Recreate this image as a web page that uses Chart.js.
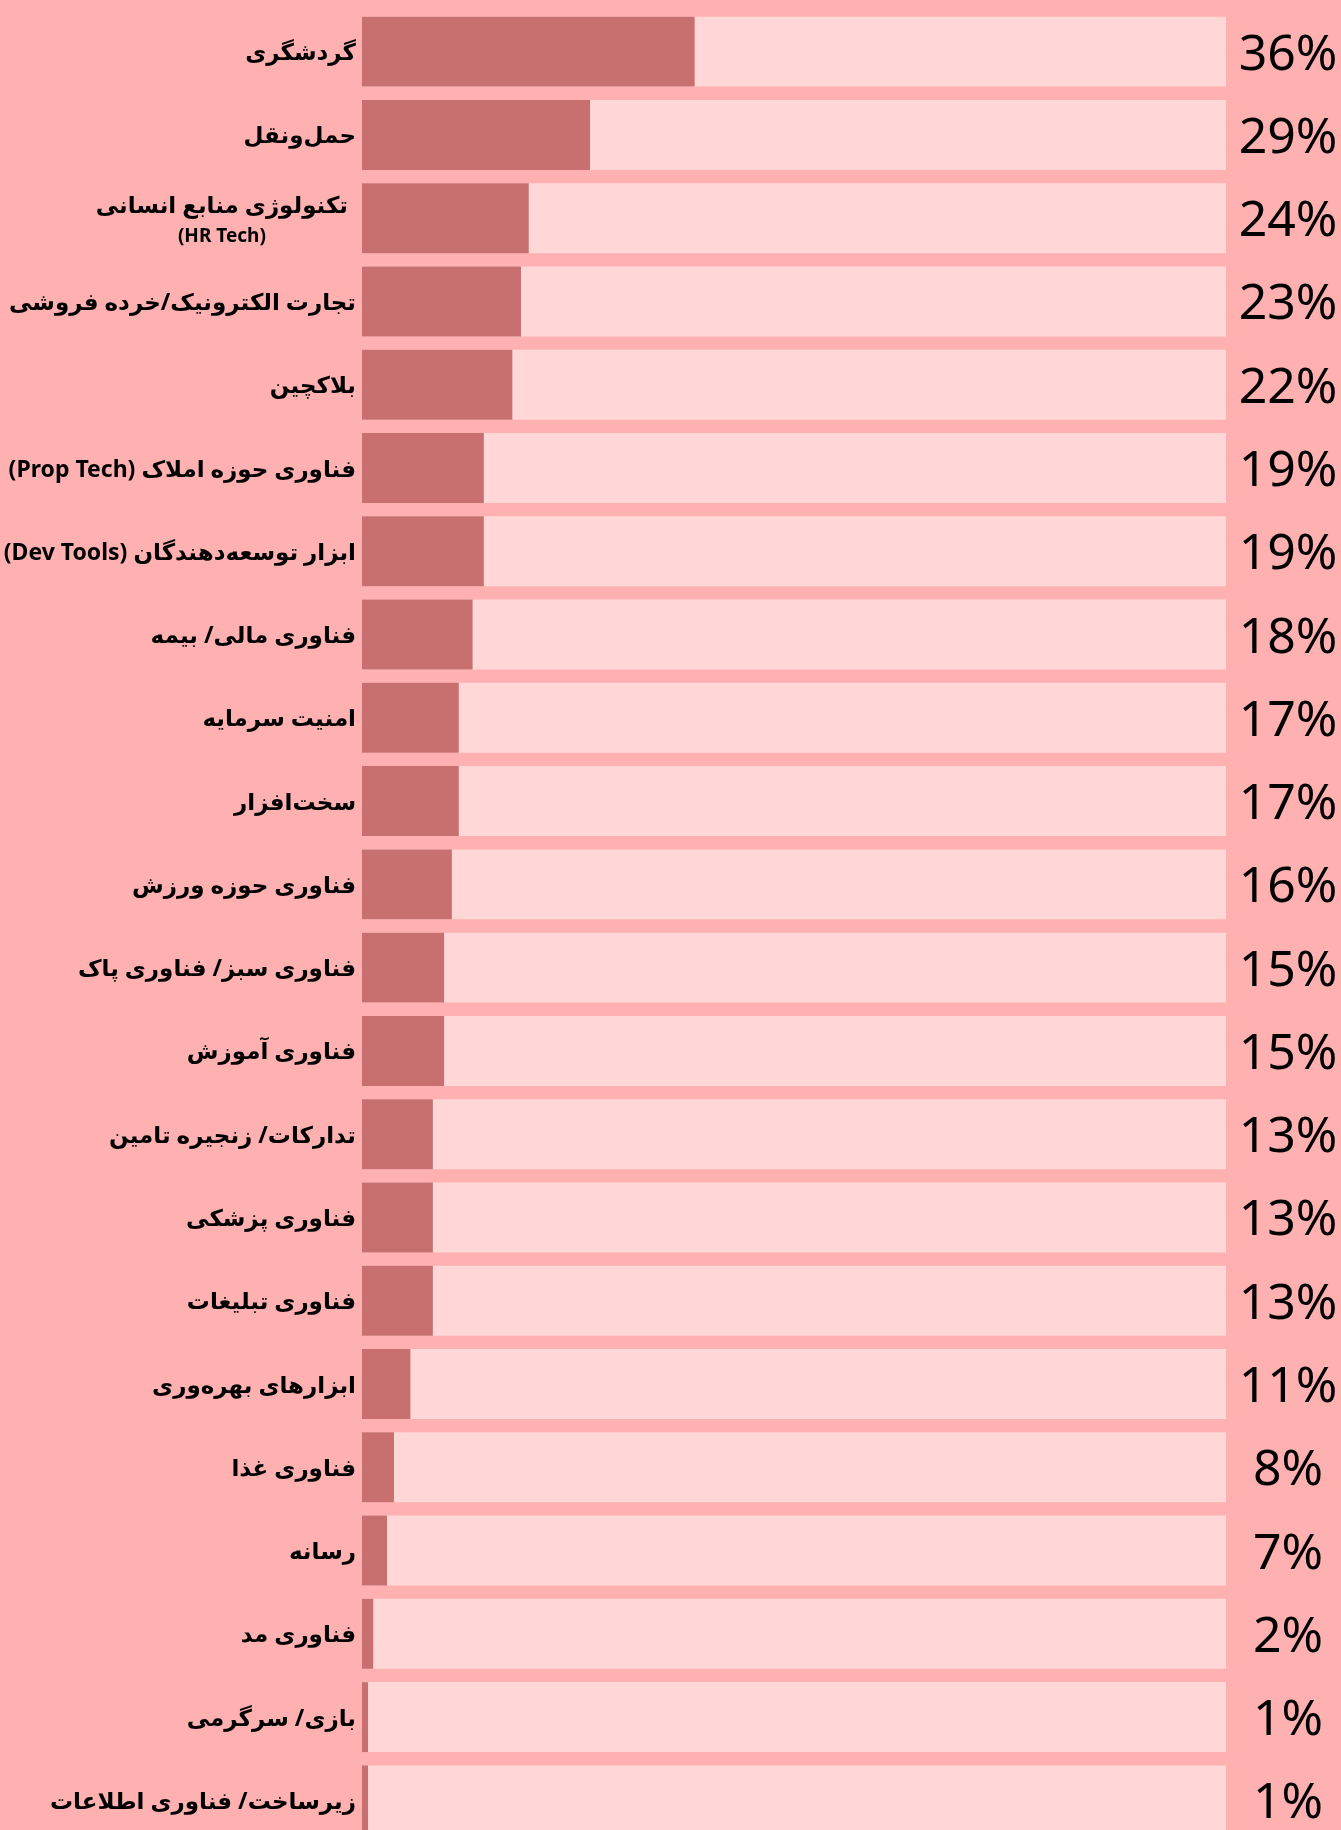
<!DOCTYPE html>
<html lang="fa">
<head>
<meta charset="utf-8">
<script src="https://cdn.jsdelivr.net/npm/chart.js@4.4.1/dist/chart.umd.min.js"></script>
<style>
    html, body { margin: 0; padding: 0; background: #ffb0b0; overflow: hidden; }
    #wrap { width: 1341px; height: 1842px; position: relative; }
</style>
</head>
<body>
<div id="wrap"><canvas id="chart"></canvas></div>
<script>
// دسته‌ها (از بالا به پایین)
const categories = [
    'گردشگری',
    'حمل‌ونقل',
    'تکنولوژی منابع انسانی',
    'تجارت الکترونیک/خرده فروشی',
    'بلاکچین',
    'فناوری حوزه املاک (Prop Tech)',
    'ابزار توسعه‌دهندگان (Dev Tools)',
    'فناوری مالی/ بیمه',
    'امنیت سرمایه',
    'سخت‌افزار',
    'فناوری حوزه ورزش',
    'فناوری سبز/ فناوری پاک',
    'فناوری آموزش',
    'تدارکات/ زنجیره تامین',
    'فناوری پزشکی',
    'فناوری تبلیغات',
    'ابزارهای بهره‌وری',
    'فناوری غذا',
    'رسانه',
    'فناوری مد',
    'بازی/ سرگرمی',
    'زیرساخت/ فناوری اطلاعات'
]

// خط دوم برچسب (فقط برای بعضی ردیف‌ها)
const subLabels = ['', '', '(HR Tech)', '', '', '', '', '', '', '', '', '', '', '', '', '', '', '', '', '', '', '']

// درصدهایی که کنار هر ردیف نوشته شده
const percentLabels = ['36%', '29%', '24%', '23%', '22%', '19%', '19%', '18%', '17%', '17%', '16%',
    '15%', '15%', '13%', '13%', '13%', '11%', '8%', '7%', '2%', '1%', '1%']

// طول میله‌ها نسبت به کل نوار (۱۰۰ = تمام نوار روشن)
const barValues = [38.5, 26.4, 19.3, 18.4, 17.4, 14.1, 14.1, 12.8, 11.2, 11.2, 10.4,
    9.5, 9.5, 8.2, 8.2, 8.2, 5.6, 3.7, 2.9, 1.3, 0.7, 0.7]

const trackMax = 100

const BAR = '#c87070'
const TRACK = '#ffd7d7'


// نوشتن برچسب‌ها و درصدها کنار میله‌ها
const labelsPlugin = {
    id: 'rowLabels',
    afterDatasetsDraw(chart) {
        const ctx = chart.ctx
        const x = chart.scales.x
        const y = chart.scales.y

        ctx.save()
        ctx.fillStyle = '#000'

        categories.forEach((name, i) => {
            const cy = y.getPixelForValue(i)
            const right = x.left - 6

            ctx.direction = 'rtl'
            ctx.textBaseline = 'middle'
            ctx.font = 'bold 23px "Noto Sans", "DejaVu Sans", sans-serif'

            if (subLabels[i]) {
                ctx.textAlign = 'right'
                const w = ctx.measureText(name).width
                ctx.fillText(name, right - 8, cy - 12)

                ctx.font = 'bold 19px "Noto Sans", "DejaVu Sans", sans-serif'
                ctx.textAlign = 'center'
                ctx.fillText(subLabels[i], right - 8 - w / 2, cy + 18)
            } else {
                ctx.textAlign = 'right'
                ctx.fillText(name, right, cy + 2)
            }

            ctx.direction = 'ltr'
            ctx.font = '50px "Noto Sans", "Open Sans", sans-serif'
            ctx.textAlign = 'center'
            ctx.textBaseline = 'alphabetic'
            ctx.fillText(percentLabels[i], x.right + 62, cy + 18)
        })

        ctx.restore()
    }
}


new Chart(document.getElementById('chart'), {
    type: 'bar',
    data: {
        labels: categories,
        datasets: [
            {
                data: barValues,
                backgroundColor: BAR,
                borderWidth: 0,
                grouped: false,
                categoryPercentage: 0.84,
                barPercentage: 1
            },
            {
                data: categories.map(() => trackMax),
                backgroundColor: TRACK,
                borderWidth: 0,
                grouped: false,
                categoryPercentage: 0.84,
                barPercentage: 1
            }
        ]
    },
    options: {
        indexAxis: 'y',
        responsive: true,
        maintainAspectRatio: false,
        animation: false,
        layout: {
            padding: { left: 362, right: 115, top: 10, bottom: 0 }
        },
        plugins: {
            legend: { display: false },
            tooltip: { enabled: false }
        },
        scales: {
            x: { display: false, min: 0, max: trackMax },
            y: { display: false }
        }
    },
    plugins: [labelsPlugin]
})
</script>
</body>
</html>
